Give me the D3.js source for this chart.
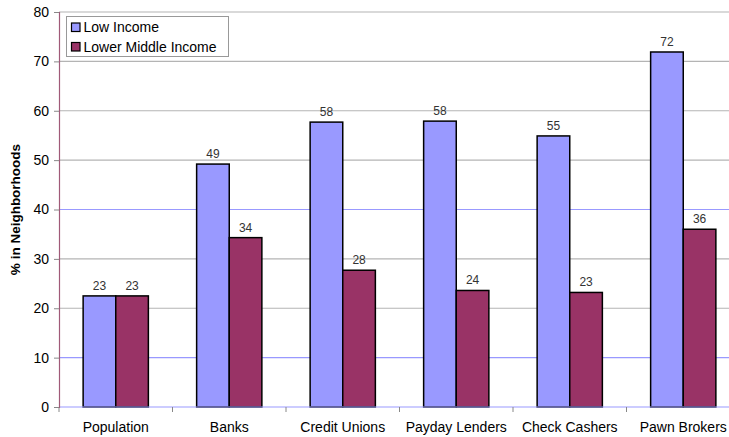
<!DOCTYPE html>
<html>
<head>
<meta charset="utf-8">
<script src="https://cdn.jsdelivr.net/npm/d3@7/dist/d3.min.js"></script>
<style>
  html, body { margin: 0; padding: 0; background: #fff; }
  svg { display: block; font-family: "Liberation Sans", Arial, sans-serif; }
</style>
</head>
<body>
<svg id="chart" width="729" height="437"></svg>
<script>
// Share of neighborhoods (%) by income group
const categories = ["Population", "Banks", "Credit Unions", "Payday Lenders", "Check Cashers", "Pawn Brokers"];
const seriesNames = ["Low Income", "Lower Middle Income"];
const lowIncome = [22.5, 49.2, 57.7, 57.9, 54.9, 71.9];
const lowerMiddleIncome = [22.5, 34.3, 27.7, 23.6, 23.2, 36.0];
const yTicks = [0, 10, 20, 30, 40, 50, 60, 70, 80];
const colors = ["#9999ff", "#993366"];

const svg = d3.select("#chart");
const margin = { left: 59, top: 12, bottom: 407, right: 740 };

const x = d3.scaleBand().domain(categories).range([margin.left, margin.right]);
const y = d3.scaleLinear().domain([0, 80]).range([margin.bottom, margin.top]);
const inner = d3.scaleBand().domain(seriesNames).range([0, x.bandwidth()]).paddingInner(0).paddingOuter(0.74);

// Gridlines (10 and 40 drawn in blue, others gray)
svg.append("g").selectAll("line").data(yTicks.filter(d => d > 0)).join("line")
  .attr("x1", margin.left).attr("x2", margin.right)
  .attr("y1", d => y(d)).attr("y2", d => y(d))
  .attr("stroke", d => (d === 10 || d === 40) ? "#9999ff" : "#b4b4b4")
  .attr("stroke-width", 1.2);

// Bars
const data = categories.map((c, i) => ({ cat: c, vals: [lowIncome[i], lowerMiddleIncome[i]] }));
const groups = svg.append("g").selectAll("g").data(data).join("g")
  .attr("transform", d => `translate(${x(d.cat)},0)`);

groups.selectAll("rect").data(d => d.vals.map((v, j) => ({ v, s: seriesNames[j], j }))).join("rect")
  .attr("x", d => inner(d.s))
  .attr("y", d => y(d.v))
  .attr("width", inner.bandwidth())
  .attr("height", d => y(0) - y(d.v))
  .attr("fill", d => colors[d.j])
  .attr("stroke", "#000")
  .attr("stroke-width", 1.5);

groups.selectAll("text").data(d => d.vals.map((v, j) => ({ v, s: seriesNames[j], j }))).join("text")
  .attr("x", d => inner(d.s) + inner.bandwidth() / 2)
  .attr("y", d => y(d.v) - 6)
  .attr("text-anchor", "middle")
  .attr("font-size", 12)
  .attr("fill", "#333")
  .text(d => Math.round(d.v));

// X axis
const xAxis = svg.append("g").attr("transform", `translate(0,${y(0)})`)
  .call(d3.axisBottom(x).tickSize(0).tickPadding(15));
xAxis.select(".domain").remove();
xAxis.selectAll("text").attr("font-size", 14).attr("fill", "#000")
  .attr("font-family", "Liberation Sans, Arial, sans-serif");
svg.append("line").attr("x1", margin.left).attr("x2", margin.right)
  .attr("y1", y(0)).attr("y2", y(0)).attr("stroke", "#9999ff").attr("stroke-width", 1.2);
// Category separator ticks
const bounds = categories.map(c => x(c)).concat([x(categories[categories.length - 1]) + x.bandwidth()]);
svg.append("g").selectAll("line").data(bounds).join("line")
  .attr("x1", d => d).attr("x2", d => d)
  .attr("y1", y(0)).attr("y2", y(0) + 5)
  .attr("stroke", "#888").attr("stroke-width", 1);

// Y axis
const yAxis = svg.append("g").attr("transform", `translate(${margin.left},0)`)
  .call(d3.axisLeft(y).tickValues(yTicks).tickSize(5).tickPadding(5));
yAxis.select(".domain").attr("stroke", "#a05a78").attr("stroke-width", 1.2);
yAxis.selectAll(".tick line").attr("stroke", "#888");
yAxis.selectAll("text").attr("font-size", 14).attr("fill", "#000")
  .attr("font-family", "Liberation Sans, Arial, sans-serif");

svg.append("text")
  .attr("transform", `translate(20,${(y(0) + y(80)) / 2}) rotate(-90)`)
  .attr("text-anchor", "middle")
  .attr("font-size", 13.5).attr("font-weight", "bold")
  .text("% in Neighborhoods");

// Legend
const legend = svg.append("g").attr("transform", "translate(66.5,16.5)");
legend.append("rect").attr("width", 162).attr("height", 40)
  .attr("fill", "#fff").attr("stroke", "#999").attr("stroke-width", 1);
const items = legend.selectAll("g").data(seriesNames).join("g")
  .attr("transform", (d, i) => `translate(5,${6.5 + i * 19.5})`);
items.append("rect").attr("width", 8.5).attr("height", 8.5)
  .attr("fill", (d, i) => colors[i]).attr("stroke", "#000").attr("stroke-width", 1.2);
items.append("text").attr("x", 12).attr("y", 9)
  .attr("font-size", 14).attr("fill", "#000").text(d => d);
</script>
</body>
</html>
